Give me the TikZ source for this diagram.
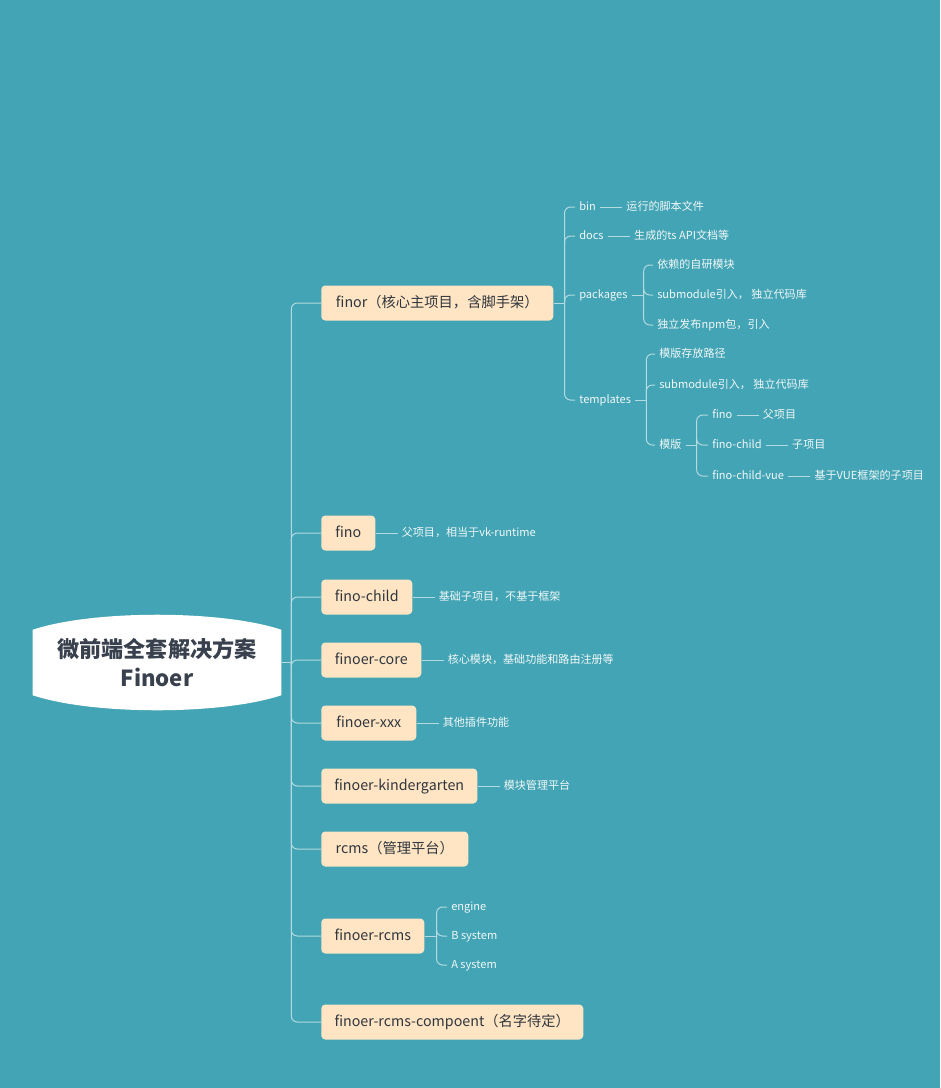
\documentclass[tikz,border=0pt]{standalone}
\usepackage{fontspec}
\setmainfont{Noto Sans CJK SC}
\usepackage{xcolor}
\usepackage{tikz}
\usetikzlibrary{positioning,backgrounds}
\definecolor{mbg}{HTML}{42A4B4}
\definecolor{mpeach}{HTML}{FFE5C3}
\definecolor{mink}{HTML}{2F363E}
\definecolor{mroot}{HTML}{38414D}
\definecolor{mline}{HTML}{B3DBE1}
\definecolor{mleaf}{HTML}{F2F8F9}

\begin{document}
\begin{tikzpicture}[x=0.75pt,y=-0.75pt,
    topic/.style={fill=mpeach,rounded corners=3pt,anchor=west,text=mink,
      font=\fontsize{10.7}{13}\selectfont,inner xsep=9.5pt,
      minimum height=26.25pt,text height=8.3pt,text depth=2.3pt},
    note/.style={anchor=west,text=mleaf,font=\fontsize{8.3}{10}\selectfont,
      inner xsep=3pt,inner ysep=1pt,text height=6.4pt,text depth=1.8pt},
    link/.style={draw=mline,line width=0.75pt,rounded corners=4.5pt}]

  \begin{scope}[on background layer]
    \fill[mbg] (0,0) rectangle (940,1088);
  \end{scope}
  \useasboundingbox (0,0) rectangle (940,1088);

  \node[minimum width=186pt,minimum height=48.75pt,inner sep=0pt,align=center,
        text=mroot,font=\fontsize{16.6}{22}\selectfont\bfseries] (root) at (157,662.5)
        {微前端全套解决方案\\Finoer};
  \begin{scope}[on background layer]
    \fill[white] (root.north west) .. controls +(60,-20) and +(-60,-20) .. (root.north east)
      -- (root.south east) .. controls +(-60,20) and +(60,20) .. (root.south west) -- cycle;
  \end{scope}
  \draw[link] (root.east) -- ++(10,0) coordinate (hub);

  \node[topic,minimum width=174pt] (finor) at (321,303) {finor（核心主项目，含脚手架）};
  \node[topic,minimum width=40.5pt] (fino) at (321,533) {fino};
  \node[topic,minimum width=68.25pt] (finochild) at (321,597) {fino-child};
  \node[topic,minimum width=75pt] (core) at (321,660) {finoer-core};
  \node[topic,minimum width=71.25pt] (xxx) at (321,723) {finoer-xxx};
  \node[topic,minimum width=117pt] (kinder) at (321,786) {finoer-kindergarten};
  \node[topic,minimum width=110.25pt] (rcms) at (321,849) {rcms（管理平台）};
  \node[topic,minimum width=77.25pt] (frcms) at (321,936) {finoer-rcms};
  \node[topic,minimum width=196.5pt] (comp) at (321,1022) {finoer-rcms-compoent（名字待定）};
  \foreach \m in {finor,fino,finochild,core,xxx,kinder,rcms,frcms,comp}
    \draw[link] (hub) |- (\m.west);

  \node[note,right=16.5pt of fino] (finonote) {父项目，相当于vk-runtime};
  \node[note,right=16.5pt of finochild] (childnote) {基础子项目，不基于框架};
  \node[note,right=16.5pt of core] (corenote) {核心模块，基础功能和路由注册等};
  \node[note,right=16.5pt of xxx] (xxxnote) {其他插件功能};
  \node[note,right=16.5pt of kinder] (kindernote) {模块管理平台};
  \draw[link] (fino) -- (finonote);
  \draw[link] (finochild) -- (childnote);
  \draw[link] (core) -- (corenote);
  \draw[link] (xxx) -- (xxxnote);
  \draw[link] (kinder) -- (kindernote);

  % finor
  \draw[link] (finor.east) -- ++(11,0) coordinate (finorhub);
  \node[note] (bin) at (575,207) {bin};
  \node[note,right=16.5pt of bin] (binnote) {运行的脚本文件};
  \node[note] (docs) at (575,236) {docs};
  \node[note,right=16.5pt of docs] (docsnote) {生成的ts API文档等};
  \node[note] (pkgs) at (575,295) {packages};
  \node[note] (tpls) at (575,400) {templates};
  \foreach \n in {bin,docs,pkgs,tpls}
    \draw[link] (finorhub) |- (\n.west);
  \draw[link] (bin) -- (binnote);
  \draw[link] (docs) -- (docsnote);

  \draw[link] (pkgs.east) -- ++(12,0) coordinate (pkgshub);
  \node[note] (dep) at (653,265) {依赖的自研模块};
  \node[note] (pkgsub) at (653,295) {submodule引入， 独立代码库};
  \node[note] (npm) at (653,325) {独立发布npm包，引入};
  \foreach \n in {dep,pkgsub,npm}
    \draw[link] (pkgshub) |- (\n.west);

  \draw[link] (tpls.east) -- ++(11,0) coordinate (tplshub);
  \node[note] (tplpath) at (655,354) {模版存放路径};
  \node[note] (tplsub) at (655,385) {submodule引入， 独立代码库};
  \node[note] (tplmod) at (655,445) {模版};
  \foreach \n in {tplpath,tplsub,tplmod}
    \draw[link] (tplshub) |- (\n.west);

  \draw[link] (tplmod.east) -- ++(11,0) coordinate (modhub);
  \node[note] (mfino) at (708,415) {fino};
  \node[note,right=16.5pt of mfino] (mfinonote) {父项目};
  \node[note] (mchild) at (708,445) {fino-child};
  \node[note,right=16.5pt of mchild] (mchildnote) {子项目};
  \node[note] (mvue) at (708,476) {fino-child-vue};
  \node[note,right=16.5pt of mvue] (mvuenote) {基于VUE框架的子项目};
  \foreach \n in {mfino,mchild,mvue}
    \draw[link] (modhub) |- (\n.west);
  \draw[link] (mfino) -- (mfinonote);
  \draw[link] (mchild) -- (mchildnote);
  \draw[link] (mvue) -- (mvuenote);

  % finoer-rcms
  \draw[link] (frcms.east) -- ++(12,0) coordinate (rcmshub);
  \node[note] (engine) at (447,907) {engine};
  \node[note] (bsys) at (447,936) {B system};
  \node[note] (asys) at (447,965) {A system};
  \foreach \n in {engine,bsys,asys}
    \draw[link] (rcmshub) |- (\n.west);
\end{tikzpicture}
\end{document}
